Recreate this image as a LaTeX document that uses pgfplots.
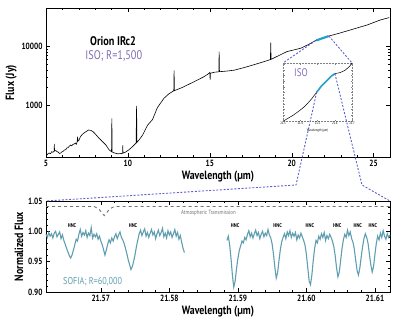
\documentclass[border=0pt]{standalone}
\usepackage{pgfplots}
\pgfplotsset{compat=1.18}
\usepackage{fontspec}
\setmainfont{PT Sans}[FakeStretch=0.82]
\definecolor{sofia}{RGB}{96,158,176}
\definecolor{hilite}{RGB}{38,160,200}
\definecolor{isopurple}{RGB}{128,108,182}
\definecolor{zoomline}{RGB}{96,96,206}
\definecolor{atmgray}{RGB}{115,115,115}
\begin{document}
\begin{tikzpicture}
\useasboundingbox (0,0) rectangle (407pt,325pt);
\pgfplotsset{
  every axis/.append style={
    scale only axis,
    anchor=south west,
    tick align=inside,
    tick pos=both,
    major tick length=4pt,
    minor tick length=2pt,
    tick style={black, line width=0.4pt},
    axis line style={line width=0.5pt},
    /pgf/number format/assume math mode=true,
    tick label style={font=\fontsize{9}{9}\selectfont\bfseries},
    label style={font=\fontsize{12}{13}\selectfont\bfseries},
  }
}
% top panel
\begin{axis}[
    name=top,
    at={(46pt,168pt)},
    width=344pt, height=149pt,
    xmin=5, xmax=26,
    ymode=log, ymin=128, ymax=46000,
    xtick={5,10,15,20,25},
    minor x tick num=4,
    ytick={1000,10000},
    yticklabels={1000,10000},
    xlabel={Wavelength (µm)},
    ylabel={Flux (Jy)},
    xlabel style={yshift=3pt},
    ylabel style={yshift=-2pt},
    clip=false
]
\addplot[black, line width=0.6pt] coordinates {
  (5.05,138) (5.12,145) (5.2,150) (5.28,146) (5.35,158) (5.42,154) (5.50,162)
  (5.51,215) (5.52,162) (5.6,165) (5.68,158) (5.75,155) (5.82,147) (5.9,150)
  (5.97,157) (6.05,160) (6.12,169) (6.2,170) (6.27,183) (6.35,185) (6.42,196)
  (6.5,205) (6.57,199) (6.65,211) (6.72,214) (6.8,222) (6.85,211) (6.9,232)
  (6.93,285) (6.95,240) (7.0,245) (7.05,263) (7.1,286)
  (7.25,320) (7.44,348) (7.6,372) (7.75,365) (7.87,348) (8.0,320) (8.23,270)
  (8.45,235) (8.66,205) (8.85,170) (9.0,158) (9.02,590) (9.04,156) (9.15,151)
  (9.4,145) (9.68,148) (9.69,205) (9.70,149) (9.85,155) (10.06,170) (10.3,195)
  (10.5,222) (10.53,960) (10.55,228) (10.7,255) (10.9,305) (11.2,450) (11.5,560)
  (11.8,900) (12.2,1300) (12.5,1550) (12.8,1750) (12.82,3900) (12.84,1760)
  (13.33,2000) (13.7,2250) (14.04,2500) (14.65,3060) (14.9,3400) (15.0,3600)
  (15.02,2700) (15.04,3500) (15.3,3650) (15.55,3700) (15.57,8200) (15.59,3720)
  (16.0,3800) (16.5,3950) (17.3,4540) (17.8,5000) (18.3,5520) (18.7,6000)
  (18.72,11700) (18.74,6050) (19.2,7000) (19.7,8200) (20.55,9400) (21.0,10800)
  (21.46,12700) (22.27,15200) (23.0,17300) (23.6,19400) (24.6,23500)
  (25.4,28600) (25.95,31500)
};
\addplot[hilite, line width=2.2pt] coordinates {(21.5,12800) (22.25,15150)};
\node[font=\fontsize{12.5}{13}\selectfont\bfseries] at (rel axis cs:0.195,0.775) {Orion IRc2};
\node[font=\fontsize{12.5}{13}\selectfont, text=isopurple] at (rel axis cs:0.197,0.68) {ISO; R=1,500};
\coordinate (c1) at (axis cs:21.46,12700);
\coordinate (c2) at (axis cs:22.27,15200);
\end{axis}
% inset
\begin{axis}[
    name=inset,
    at={(283pt,204pt)},
    width=69pt, height=58pt,
    xmin=21.3, xmax=21.7, ymin=0, ymax=1.02,
    axis line style={densely dotted, gray, line width=0.6pt},
    xtick={21.3,21.4,21.5,21.6,21.7},
    xticklabels={21.3,21.4,21.5,21.6,21.7},
    ytick={0.1,0.2,...,1.0},
    yticklabels={},
    major tick length=1.5pt,
    tick style={gray, line width=0.3pt},
    xticklabel style={font=\fontsize{3.6}{4}\selectfont, inner sep=1pt},
    xlabel={Wavelength (µm)},
    xlabel style={font=\fontsize{3.6}{4}\selectfont, at={(rel axis cs:0.5,0)}, anchor=center, yshift=-10pt},
    clip=false
]
\addplot[black, line width=0.5pt] coordinates {
  (21.306,0.005) (21.33,0.05) (21.36,0.103) (21.39,0.17) (21.418,0.236)
  (21.44,0.30) (21.466,0.39) (21.495,0.505) (21.524,0.62) (21.553,0.707)
  (21.582,0.793) (21.601,0.833) (21.63,0.85) (21.659,0.89) (21.688,0.966) (21.698,1.02)
};
\addplot[hilite, line width=1.6pt] coordinates {
  (21.495,0.505) (21.524,0.62) (21.553,0.707) (21.582,0.793) (21.601,0.833)
};
\node[font=\fontsize{11}{12}\selectfont, text=isopurple] at (rel axis cs:0.26,0.83) {ISO};
\coordinate (i1) at (axis cs:21.495,0.505);
\coordinate (i2) at (axis cs:21.601,0.833);
\end{axis}
% bottom panel
\begin{axis}[
    name=bot,
    at={(46pt,33pt)},
    width=344pt, height=91pt,
    xmin=21.562, xmax=21.6122,
    ymin=0.90, ymax=1.05,
    xtick={21.57,21.58,21.59,21.60,21.61},
    xticklabels={21.57,21.58,21.59,21.60,21.61},
    minor x tick num=4,
    ytick={0.90,0.95,1.00,1.05},
    yticklabels={0.90,0.95,1.00,1.05},
    minor y tick num=4,
    xlabel={Wavelength (µm)},
    ylabel={Normalized Flux},
    xlabel style={yshift=3pt},
    ylabel style={yshift=-2pt},
    clip=false
]
\addplot[atmgray, dashed, line width=0.9pt] coordinates {
  (21.562,1.041) (21.5690,1.041) (21.5697,1.037) (21.5702,1.030) (21.5705,1.026)
  (21.5708,1.030) (21.5713,1.037) (21.5720,1.041) (21.6122,1.041)
};
\addplot[sofia, line width=1.1pt] coordinates {
  (21.5620,0.995) (21.5622,0.990) (21.5624,0.998) (21.5626,0.992) (21.5628,0.996)
  (21.5630,0.989) (21.5632,0.997) (21.5634,1.000) (21.5636,0.991) (21.5638,0.995)
  (21.5640,0.999) (21.5642,0.988) (21.5644,0.994) (21.5646,0.985) (21.5648,0.979)
  (21.5650,0.972) (21.5652,0.966) (21.5654,0.960) (21.5656,0.956) (21.5658,0.961)
  (21.5660,0.969) (21.5662,0.978) (21.5664,0.987) (21.5666,0.984) (21.5668,0.995)
  (21.5670,1.003) (21.5672,0.992) (21.5674,0.998) (21.5676,0.994) (21.5678,1.001)
  (21.5680,0.990) (21.5682,0.997) (21.5684,0.993) (21.5686,1.006) (21.5688,0.989)
  (21.5690,0.995) (21.5692,0.991) (21.5694,0.996) (21.5696,0.987) (21.5698,0.992)
  (21.5700,0.984) (21.5702,0.978) (21.5704,0.970) (21.5706,0.961) (21.5708,0.969)
  (21.5710,0.979) (21.5712,0.986) (21.5714,0.981) (21.5716,0.989) (21.5718,0.984)
  (21.5720,0.991) (21.5722,0.996) (21.5724,0.988) (21.5726,0.994) (21.5728,0.999)
  (21.5730,0.990) (21.5732,0.986) (21.5734,0.980) (21.5736,0.972) (21.5738,0.963)
  (21.5740,0.953) (21.5742,0.945) (21.5744,0.937) (21.5746,0.942) (21.5748,0.951)
  (21.5750,0.962) (21.5752,0.975) (21.5754,0.986) (21.5756,0.996) (21.5758,1.002)
  (21.5760,0.993) (21.5762,0.999) (21.5764,1.004) (21.5766,0.992) (21.5768,0.998)
  (21.5770,0.990) (21.5772,0.997) (21.5774,1.003) (21.5776,0.994) (21.5778,0.999)
  (21.5780,0.988) (21.5782,0.996) (21.5784,1.002) (21.5786,0.993) (21.5788,0.998)
  (21.5790,1.005) (21.5792,0.991) (21.5794,0.997) (21.5796,0.989) (21.5798,1.001)
  (21.5800,0.994) (21.5802,0.999) (21.5804,0.990) (21.5806,0.996) (21.5808,1.003)
  (21.5810,0.992) (21.5812,0.998) (21.5814,0.987) (21.5816,0.993) (21.5818,0.982)
  (21.5820,0.972) (21.5822,0.965)
};
\addplot[sofia, line width=1.1pt] coordinates {
  (21.5884,0.985) (21.5886,0.992) (21.5888,0.978) (21.5890,0.955) (21.5892,0.928)
  (21.5894,0.908) (21.5896,0.918) (21.5898,0.938) (21.5900,0.955) (21.5902,0.968)
  (21.5904,0.976) (21.5906,0.984) (21.5908,0.981) (21.5910,0.990) (21.5912,0.986)
  (21.5914,0.995) (21.5916,1.001) (21.5918,0.991) (21.5920,0.997) (21.5922,0.989)
  (21.5924,0.996) (21.5926,1.002) (21.5928,0.993) (21.5930,0.998) (21.5932,0.988)
  (21.5934,0.995) (21.5936,1.000) (21.5938,0.991) (21.5940,0.997) (21.5942,0.993)
  (21.5944,1.003) (21.5946,0.994) (21.5948,0.989) (21.5950,0.979) (21.5952,0.962)
  (21.5954,0.940) (21.5956,0.923) (21.5958,0.932) (21.5960,0.952) (21.5962,0.970)
  (21.5964,0.983) (21.5966,0.990) (21.5968,0.996) (21.5970,0.988) (21.5972,0.999)
  (21.5974,0.993) (21.5976,1.001) (21.5978,0.990) (21.5980,0.997) (21.5982,0.992)
  (21.5984,0.998) (21.5986,0.986) (21.5988,0.994) (21.5990,0.989) (21.5992,0.997)
  (21.5994,0.991) (21.5996,0.985) (21.5998,0.977) (21.6000,0.962) (21.6002,0.940)
  (21.6004,0.918) (21.6006,0.912) (21.6008,0.928) (21.6010,0.952) (21.6012,0.972)
  (21.6014,0.985) (21.6016,0.981) (21.6018,0.992) (21.6020,0.987) (21.6022,0.996)
  (21.6024,0.990) (21.6026,0.998) (21.6028,0.985) (21.6030,0.993) (21.6032,0.988)
  (21.6034,0.995) (21.6036,0.990) (21.6038,0.984) (21.6040,0.975) (21.6042,0.960)
  (21.6044,0.940) (21.6046,0.925) (21.6048,0.933) (21.6050,0.952) (21.6052,0.972)
  (21.6054,0.986) (21.6056,0.995) (21.6058,0.990) (21.6060,1.002) (21.6062,0.993)
  (21.6064,0.999) (21.6066,0.988) (21.6068,0.982) (21.6070,0.970) (21.6072,0.952)
  (21.6074,0.935) (21.6076,0.928) (21.6078,0.940) (21.6080,0.958) (21.6082,0.975)
  (21.6084,0.988) (21.6086,0.996) (21.6088,0.990) (21.6090,0.980) (21.6092,0.962)
  (21.6094,0.945) (21.6096,0.933) (21.6098,0.942) (21.6100,0.962) (21.6102,0.980)
  (21.6104,0.992) (21.6106,0.986) (21.6108,0.997) (21.6110,0.990) (21.6112,1.001)
  (21.6114,0.992) (21.6116,0.987) (21.6118,0.996) (21.6120,0.990) (21.6122,0.994)
};
\node[font=\fontsize{6}{6}\selectfont, text=atmgray] at (axis cs:21.5857,1.031) {Atmospheric Transmission};
\node[font=\fontsize{10}{11}\selectfont, text=sofia] at (axis cs:21.5688,0.917) {SOFIA; R=60,000};
\node[font=\fontsize{5.5}{6}\selectfont\bfseries] at (axis cs:21.5658,1.009) {HNC};
\node[font=\fontsize{5.5}{6}\selectfont\bfseries] at (axis cs:21.5747,1.009) {HNC};
\node[font=\fontsize{5.5}{6}\selectfont\bfseries] at (axis cs:21.5896,1.009) {HNC};
\node[font=\fontsize{5.5}{6}\selectfont\bfseries] at (axis cs:21.5958,1.009) {HNC};
\node[font=\fontsize{5.5}{6}\selectfont\bfseries] at (axis cs:21.6005,1.009) {HNC};
\node[font=\fontsize{5.5}{6}\selectfont\bfseries] at (axis cs:21.6045,1.009) {HNC};
\node[font=\fontsize{5.5}{6}\selectfont\bfseries] at (axis cs:21.6075,1.009) {HNC};
\node[font=\fontsize{5.5}{6}\selectfont\bfseries] at (axis cs:21.6097,1.009) {HNC};
\end{axis}
% zoom guide lines
\begin{scope}[zoomline, line width=0.9pt, dash pattern=on 2pt off 1.6pt]
\draw (c1) -- (inset.north west);
\draw (c2) -- (inset.north east);
\draw (i1) -- (296pt,140pt) -- (bot.north west);
\draw (i2) -- (362pt,140pt) -- (bot.north east);
\end{scope}
\end{tikzpicture}
\end{document}
